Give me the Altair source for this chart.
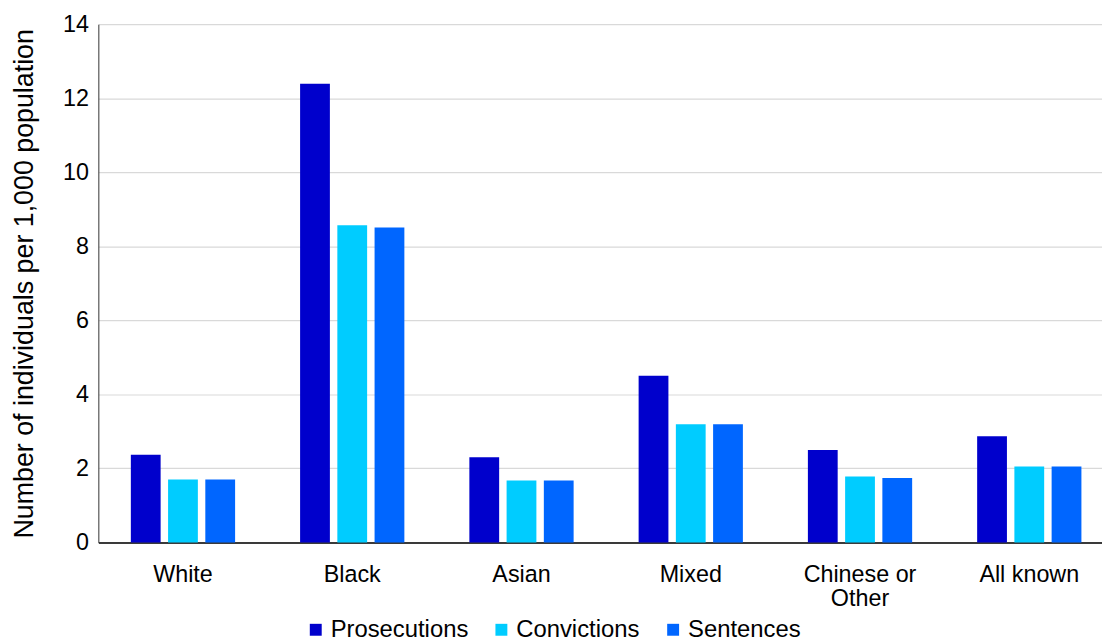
import altair as alt
import pandas as pd

categories = ["White", "Black", "Asian", "Mixed", "Chinese or Other", "All known"]
series = ["Prosecutions", "Convictions", "Sentences"]
prosecutions = [2.37, 12.39, 2.30, 4.50, 2.50, 2.87]
convictions = [1.70, 8.57, 1.67, 3.19, 1.78, 2.05]
sentences = [1.70, 8.51, 1.67, 3.19, 1.74, 2.05]
colors = ["#0000CC", "#00CCFF", "#0066FF"]

rows = []
for i, c in enumerate(categories):
    for s, vals in zip(series, [prosecutions, convictions, sentences]):
        rows.append({"category": c, "series": s, "value": vals[i]})
df = pd.DataFrame(rows)

FONT = "Liberation Sans"

chart = alt.Chart(df).mark_bar().encode(
    x=alt.X("category:N", sort=categories, title=None,
            scale=alt.Scale(paddingInner=0.384, paddingOuter=0.192, range=[0, 1023]),
            axis=alt.Axis(labelAngle=0, ticks=False, labelPadding=20,
                          labelFontSize=23.5, labelFont=FONT, labelColor="#000",
                          labelLineHeight=25,
                          labelExpr="datum.value == 'Chinese or Other' ? ['Chinese or', 'Other'] : datum.label",
                          domainColor="#000", domainWidth=1.5)),
    xOffset=alt.XOffset("series:N", sort=series,
                        scale=alt.Scale(paddingInner=0.2, paddingOuter=0)),
    y=alt.Y("value:Q", title="Number  of individuals per 1,000 population",
            scale=alt.Scale(domain=[0, 14], nice=False),
            axis=alt.Axis(values=list(range(0, 15, 2)), ticks=False, labelPadding=10,
                          labelFontSize=23.5, labelFont=FONT, labelColor="#000",
                          titleFontSize=27, titleFont=FONT, titleFontWeight="normal",
                          titleColor="#000", titlePadding=24,
                          gridColor="#D9D9D9", gridWidth=1.2,
                          domainColor="#333", domainWidth=1)),
    color=alt.Color("series:N", sort=series,
                    scale=alt.Scale(domain=series, range=colors),
                    legend=alt.Legend(title=None, orient="none", direction="horizontal",
                                      legendX=207, legendY=598,
                                      symbolType="square", symbolSize=144,
                                      symbolStrokeWidth=0, labelOffset=3,
                                      columnPadding=21,
                                      labelFontSize=24, labelFont=FONT, labelColor="#000")),
).properties(
    width=1011, height=522,
    autosize=alt.AutoSizeParams(type="none"),
    padding={"left": 91, "top": 14, "right": 0, "bottom": 99},
).configure_view(stroke=None)

chart.save("out.html", embed_options={"renderer": "svg", "actions": False})
